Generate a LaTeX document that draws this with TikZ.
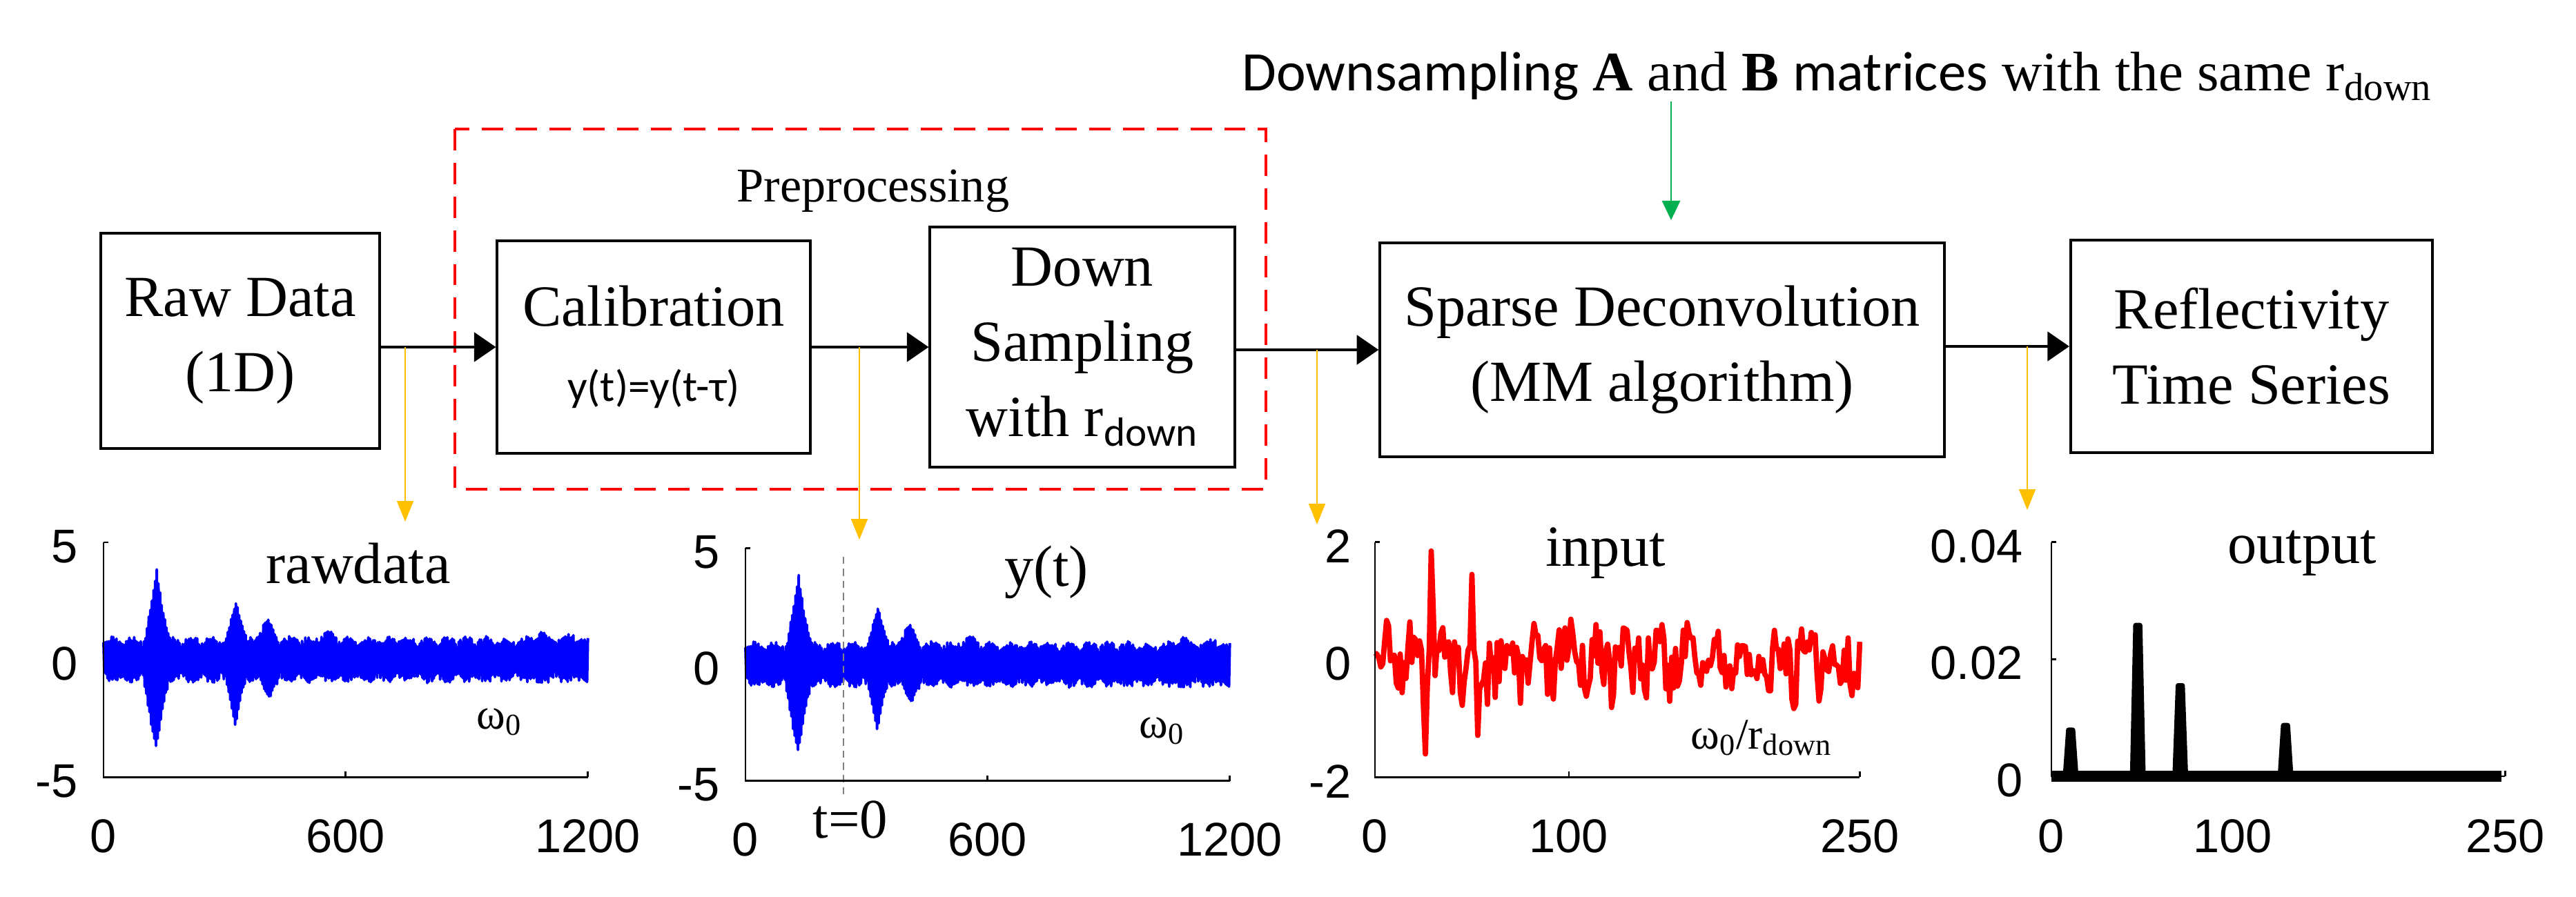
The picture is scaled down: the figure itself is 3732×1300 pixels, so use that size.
\documentclass[tikz,border=0pt]{standalone}
\usepackage{fontspec}
\setmainfont{Liberation Serif}
\setsansfont{Liberation Sans}
\newfontfamily\calibrifont{Carlito}
\usetikzlibrary{arrows.meta}
\definecolor{tapyellow}{RGB}{255,192,0}
\definecolor{notegreen}{RGB}{0,176,80}
\pgfmathdeclarefunction{tri}{3}{\pgfmathparse{max(0,1-abs(#1-#2)/#3)}}
\pgfmathdeclarefunction{alt}{1}{\pgfmathparse{1-2*mod(#1/2,2)}}
\pgfmathdeclarefunction{echoup}{1}{\pgfmathparse{2.9*tri(#1,132,30)+1.7*tri(#1,330,26)+0.9*tri(#1,405,30)+0.35*tri(#1,555,30)+0.3*tri(#1,1080,25)+0.3*tri(#1,1160,20)}}
\pgfmathdeclarefunction{echodn}{1}{\pgfmathparse{2.9*tri(#1,130,32)+2.0*tri(#1,328,24)+0.8*tri(#1,410,26)+0.2*tri(#1,1070,20)}}
\pgfmathdeclarefunction{rawsig}{1}{\pgfmathparse{alt(#1)*(0.5+0.25*rnd+0.25*abs(sin(3.7*#1)))+(1+alt(#1))/2*echoup(#1)-(1-alt(#1))/2*echodn(#1)}}
\pgfmathdeclarefunction{inputsig}{1}{\pgfmathparse{0.5*rand+0.25*sin(23*#1)+0.15*sin(61*#1+40)+1.9*tri(#1,29,1.5)-1.2*tri(#1,26,1.5)+1.1*tri(#1,50,1.5)-1.2*tri(#1,53,1.5)}}

\begin{document}
\begin{tikzpicture}[x=0.01cm, y=-0.01cm,
            every node/.style={inner sep=0pt},
            stagebox/.style={draw, line width=1.1pt, align=center, font=\fontsize{24}{31}\selectfont},
            flow/.style={line width=1.4pt, -{Triangle[length=9pt,width=12pt]}},
            tap/.style={draw=tapyellow, line width=0.6pt, -{Triangle[length=8.5pt,width=6.8pt]}},
            hint/.style={draw=notegreen, line width=0.6pt, -{Triangle[length=8pt,width=7.5pt]}},
            prepbox/.style={draw=red, line width=1pt, dash pattern=on 8.8pt off 5.1pt},
            axisline/.style={line width=0.8pt},
            ticklab/.style={font=\sffamily\fontsize{19.5}{20}\selectfont},
            plottitle/.style={font=\fontsize{24}{24}\selectfont},
            unitlab/.style={font=\fontsize{18}{18}\selectfont}]
        \useasboundingbox (0,0) rectangle (3732,1300);

        % processing chain
        \node[stagebox, minimum width=4.04cm, minimum height=3.12cm] (raw) at (348,494) {Raw Data\\(1D)};
        \node[stagebox, minimum width=4.53cm, minimum height=3.08cm] (calib) at (947,503)
            {Calibration\\{\calibrifont\fontsize{18}{20}\selectfont y(t)=y(t-τ)}};
        \node[stagebox, minimum width=4.41cm, minimum height=3.47cm] (down) at (1568,503)
            {Down\\Sampling\\with r\textsubscript{\calibrifont down}};
        \node[stagebox, minimum width=8.17cm, minimum height=3.10cm] (sparse) at (2408,507)
            {Sparse Deconvolution\\(MM algorithm)};
        \node[stagebox, minimum width=5.24cm, minimum height=3.07cm] (refl) at (3262,502)
            {Reflectivity\\Time Series};

        \draw[prepbox] (659,187) rectangle (1834,709);
        \node[font=\fontsize{20}{20}\selectfont, anchor=base] (preplab) at (1265,292) {Preprocessing};
        \node[font=\fontsize{23}{24}\selectfont, anchor=base west] (note) at (1799,132)
            {{\calibrifont Downsampling} \textbf{A} and \textbf{B} {\calibrifont matrices} with the same r\textsubscript{down}};

        \draw[flow] (raw.east |- calib.west) -- (calib.west);
        \draw[flow] (calib.east) -- (calib.east -| down.west);
        \draw[flow] (down.east |- sparse.west) -- (sparse.west);
        \draw[flow] (sparse.east |- refl.west) -- (refl.west);

        % taps down to the plots
        \coordinate (tapA) at (587,503);  \coordinate (plotA) at (587,756);
        \coordinate (tapB) at (1245,503); \coordinate (plotB) at (1245,782);
        \coordinate (tapC) at (1908,507); \coordinate (plotC) at (1908,760);
        \coordinate (tapD) at (2937,502); \coordinate (plotD) at (2937,739);
        \foreach \t/\p in {tapA/plotA, tapB/plotB, tapC/plotC, tapD/plotD}
            \draw[tap] (\t) -- (\p);
        \coordinate (hinttip) at (2421,319);
        \draw[hint] (note.south -| hinttip) -- (hinttip);

        % rawdata
        \begin{scope}[shift={(150,956)}, x=0.00585cm, y=0.34cm]
            \pgfmathsetseed{5}
            \draw[blue, line width=1.1pt, line join=round] plot[domain=0:1200, samples=601] (\x, {rawsig(\x)});
            \draw[axisline] (0,5) -- (0,-5) -- (1200,-5);
            \draw[axisline] (0,5) -- ++(0.07cm,0) (600,-5) -- ++(0,0.08cm) (1200,-5) -- ++(0,0.08cm);
            \foreach \v/\n in {5/top,0/mid,-5/bot}
                \node[ticklab, anchor=east] (rawy\n) at ([xshift=-0.37cm, yshift=-0.06cm]0,\v) {\v};
            \foreach \v/\n in {0/a,600/b,1200/c}
                \node[ticklab, anchor=base] (rawx\n) at ([yshift=-1.09cm]\v,-5) {\v};
        \end{scope}
        \node[plottitle, anchor=base] (rawtitle) at (519,845) {rawdata};
        \node[unitlab, anchor=base west] (rawunit) at (690,1056) {ω\textsubscript{0}};

        % y(t)
        \begin{scope}[shift={(1080,963)}, x=0.00584cm, y=0.337cm]
            \pgfmathsetseed{5}
            \draw[blue, line width=1.1pt, line join=round] plot[domain=0:1200, samples=601] (\x, {rawsig(\x)});
            \draw[gray, line width=0.5pt, dash pattern=on 3pt off 2pt] (243,4.64) -- (243,-5.77);
            \draw[axisline] (0,5) -- (0,-5) -- (1200,-5);
            \draw[axisline] (0,5) -- ++(0.07cm,0) (600,-5) -- ++(0,0.08cm) (1200,-5) -- ++(0,0.08cm);
            \foreach \v/\n in {5/top,0/mid,-5/bot}
                \node[ticklab, anchor=east] (yty\n) at ([xshift=-0.37cm, yshift=-0.06cm]0,\v) {\v};
            \foreach \v/\n in {0/a,600/b,1200/c}
                \node[ticklab, anchor=base] (ytx\n) at ([yshift=-1.09cm]\v,-5) {\v};
        \end{scope}
        \node[plottitle, anchor=base] (yttitle) at (1516,849) {y(t)};
        \node[unitlab, anchor=base west] (ytunit) at (1650,1069) {ω\textsubscript{0}};
        \node[font=\fontsize{23}{23}\selectfont, anchor=base] (tzero) at (1232,1214) {t=0};

        % input
        \begin{scope}[shift={(1992,956)}, x=0.02808cm, y=0.85cm]
            \pgfmathsetseed{11}
            \draw[red, line width=2.2pt, line join=round] plot[domain=0:250, samples=251] (\x, {inputsig(\x)});
            \draw[axisline] (0,2) -- (0,-2) -- (250,-2);
            \draw[axisline] (0,2) -- ++(0.07cm,0) (100,-2) -- ++(0,0.08cm) (250,-2) -- ++(0,0.08cm);
            \foreach \v/\n in {2/top,0/mid,-2/bot}
                \node[ticklab, anchor=east] (iny\n) at ([xshift=-0.34cm, yshift=-0.06cm]0,\v) {\v};
            \foreach \v/\n in {0/a,100/b,250/c}
                \node[ticklab, anchor=base] (inx\n) at ([yshift=-1.09cm]\v,-2) {\v};
        \end{scope}
        \node[plottitle, anchor=base] (intitle) at (2326,820) {input};
        \node[unitlab, anchor=base west] (inunit) at (2449,1085) {ω\textsubscript{0}/r\textsubscript{down}};

        % output
        \begin{scope}[shift={(2972,1125)}, x=0.02628cm, y=84.75cm]
            \draw[axisline] (0,0.04) -- (0,0) -- (250,0);
            \draw[axisline] (0,0.04) -- ++(0.07cm,0) (0,0.02) -- ++(0.07cm,0) (100,0) -- ++(0,0.08cm) (250,0) -- ++(0,0.08cm);
            \draw[line width=4.3pt] (0,0) -- (248,0);
            \foreach \s/\h in {10.6/0.0079, 47.6/0.0258, 71/0.0155, 129/0.0087}
                \filldraw[line width=2pt, line join=round] (\s-3,0) -- (\s-1.2,\h) -- (\s+1.2,\h) -- (\s+3,0) -- cycle;
            \foreach \v/\n in {0.04/top,0.02/mid,0/bot}
                \node[ticklab, anchor=east] (outy\n) at ([xshift=-0.41cm, yshift=-0.06cm]0,\v) {\v};
            \foreach \v/\n in {0/a,100/b,250/c}
                \node[ticklab, anchor=base] (outx\n) at ([yshift=-1.10cm]\v,0) {\v};
        \end{scope}
        \node[plottitle, anchor=base] (outtitle) at (3335,816) {output};
\end{tikzpicture}
\end{document}
